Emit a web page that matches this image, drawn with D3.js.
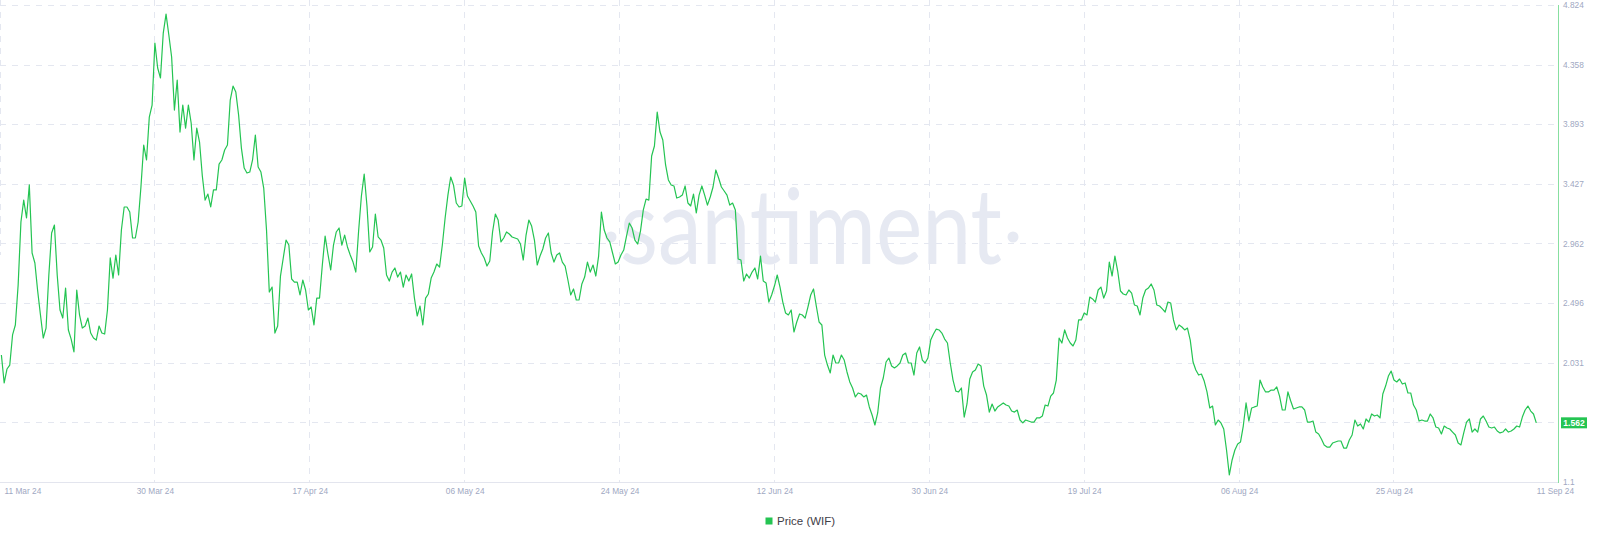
<!DOCTYPE html>
<html><head><meta charset="utf-8">
<script src="https://cdn.jsdelivr.net/npm/d3@7"></script>
<style>html,body{margin:0;padding:0;background:#fff;overflow:hidden} svg{display:block}</style>
</head><body>
<svg id="chart" width="1600" height="541"></svg>
<script>
// ---------------- data ----------------
const seriesName = "Price (WIF)";
const seriesStart = "2024-03-11T16:00:00Z";
const seriesStepHours = 8;
const prices = [
2.091,1.873,1.982,2.013,2.248,2.326,2.638,3.130,3.301,3.161,
3.419,2.888,2.810,2.591,2.404,2.224,2.302,2.716,3.044,3.106,
2.716,2.443,2.380,2.614,2.287,2.216,2.115,2.599,2.404,2.302,
2.318,2.380,2.263,2.224,2.208,2.318,2.263,2.255,2.443,2.849,
2.692,2.872,2.716,3.067,3.247,3.247,3.208,3.005,3.005,3.130,
3.403,3.731,3.614,3.949,4.043,4.527,4.332,4.254,4.605,4.753,
4.590,4.418,4.004,4.238,3.832,4.043,3.863,4.043,3.903,3.614,
3.863,3.754,3.489,3.301,3.348,3.247,3.380,3.380,3.582,3.614,
3.692,3.731,4.082,4.191,4.144,3.965,3.707,3.551,3.512,3.520,
3.614,3.809,3.559,3.520,3.395,3.067,2.583,2.622,2.263,2.318,
2.708,2.849,2.989,2.950,2.685,2.661,2.661,2.560,2.677,2.599,
2.443,2.466,2.326,2.536,2.536,2.794,3.020,2.880,2.755,2.950,
3.052,3.083,2.950,3.028,2.935,2.872,2.817,2.739,3.059,3.333,
3.504,3.255,2.896,2.935,3.192,3.013,2.989,2.927,2.716,2.669,
2.739,2.771,2.700,2.739,2.622,2.716,2.669,2.724,2.536,2.396,
2.474,2.326,2.536,2.568,2.692,2.739,2.802,2.778,2.950,3.161,
3.340,3.481,3.419,3.278,3.247,3.255,3.473,3.333,3.294,3.255,
3.208,2.942,2.888,2.849,2.786,2.825,3.052,3.192,3.145,2.974,
3.005,3.052,3.036,3.013,3.005,
2.997,2.958,2.833,3.028,3.145,3.098,
2.989,2.794,2.864,2.919,3.005,3.044,2.888,2.817,2.872,2.888,
2.817,2.786,2.677,2.560,2.607,2.521,2.521,2.646,2.700,2.817,
2.739,2.794,2.708,2.864,3.208,3.067,3.005,2.974,2.888,2.802,
2.817,2.872,2.911,3.020,3.122,3.083,2.989,2.958,3.059,3.223,
3.309,3.301,3.645,3.723,3.988,3.832,3.770,3.575,3.458,3.419,
3.411,3.317,3.325,3.340,3.411,3.278,3.255,3.348,3.200,3.340,
3.411,3.340,3.262,3.325,3.403,3.536,3.473,3.403,3.372,3.340,
3.262,3.278,3.223,2.841,2.833,2.669,2.724,2.692,2.739,2.771,
2.685,2.864,2.669,2.654,2.505,2.560,2.630,2.716,2.622,2.505,
2.419,2.404,2.443,2.271,2.349,2.412,2.404,2.380,2.466,2.560,
2.607,2.474,2.349,2.326,2.091,2.013,1.951,2.091,2.029,2.029,
2.091,2.052,1.959,1.881,1.834,1.764,1.795,1.787,1.764,1.779,
1.686,1.623,1.545,1.639,1.834,1.912,2.037,2.068,2.006,1.990,
2.006,2.029,2.091,2.107,2.029,2.029,1.935,2.107,2.154,2.052,
2.029,2.068,2.208,2.255,2.294,2.287,2.263,2.216,2.185,2.029,
1.896,1.810,1.803,1.834,1.607,1.709,1.904,1.959,1.974,2.021,
2.006,1.849,1.779,1.646,1.709,1.654,1.686,1.701,1.717,1.701,
1.693,1.654,1.646,1.662,1.584,1.561,1.584,1.576,
1.568,1.568,1.600,
1.600,1.615,1.701,1.693,1.771,1.795,1.896,2.224,2.185,2.287,
2.224,2.185,2.162,2.208,2.365,2.365,2.419,2.404,2.544,2.529,
2.505,2.599,2.622,2.536,2.591,2.817,2.708,2.864,2.747,2.591,
2.568,2.560,2.599,2.575,2.482,2.474,2.404,2.536,2.599,2.614,
2.646,2.599,2.482,2.474,2.451,2.427,2.505,2.497,2.365,2.287,
2.326,2.310,2.287,2.302,2.208,2.037,1.974,1.935,1.943,1.888,
1.803,1.678,1.693,1.545,1.584,1.561,1.514,1.350,1.155,1.272,
1.350,1.397,1.412,1.537,1.717,1.576,1.678,1.686,1.693,1.896,
1.842,1.803,1.803,1.818,1.818,1.842,1.771,1.662,1.662,1.803,
1.732,1.670,1.678,1.686,1.686,1.662,1.568,1.568,1.576,1.490,
1.475,1.436,1.389,1.373,1.373,1.404,1.412,1.420,1.420,1.365,
1.365,1.428,1.467,1.584,1.537,1.553,1.514,1.592,1.568,1.631,
1.615,1.623,1.600,1.787,1.849,1.927,1.966,1.896,1.881,1.904,
1.865,1.873,1.795,1.795,1.701,1.662,1.576,1.584,1.576,1.576,
1.631,1.600,1.529,1.522,1.475,1.537,1.522,1.514,1.490,1.467,
1.404,1.389,1.483,1.568,1.592,1.490,1.514,1.490,1.592,1.615,
1.576,1.529,1.522,1.529,1.498,1.483,1.490,1.514,1.490,1.498,
1.514,1.537,1.529,1.607,1.662,1.693,1.654,1.631,1.562
];
const xDomain = ["2024-03-11T12:00:00Z", "2024-09-11T00:00:00Z"];
const xTickDates = ["2024-03-11T12:00:00Z","2024-03-30T00:00:00Z","2024-04-17T12:00:00Z","2024-05-06T00:00:00Z","2024-05-24T12:00:00Z","2024-06-12T00:00:00Z","2024-06-30T12:00:00Z","2024-07-19T00:00:00Z","2024-08-06T12:00:00Z","2024-08-25T00:00:00Z"];
const xTickLabels = ["11 Mar 24","30 Mar 24","17 Apr 24","06 May 24","24 May 24","12 Jun 24","30 Jun 24","19 Jul 24","06 Aug 24","25 Aug 24"];
const xEndLabel = "11 Sep 24";
const yDomain = [1.1, 4.824];
const yTicks = [1.1, 1.5655, 2.031, 2.4965, 2.962, 3.4275, 3.893, 4.3585, 4.824];
const yTickLabels = ["1.1","1.566","2.031","2.496","2.962","3.427","3.893","4.358","4.824"];
const lastPriceLabel = "1.562";
const watermark = "santiment";

// ---------------- layout ----------------
const plotRight = 1558, plotTop = 5, plotBottom = 482, dataRight = 1536.3;
const green = "#24c452", gridColor = "#e4e7f0", labelColor = "#a0a8c2";
const labelFont = "Liberation Sans, Arial, sans-serif";

const svg = d3.select("#chart");
const parse = d3.utcParse("%Y-%m-%dT%H:%M:%SZ");
const t0 = parse(seriesStart);
const data = prices.map((v, i) => ({ t: new Date(+t0 + i * seriesStepHours * 3600e3), v }));

const x = d3.scaleUtc().domain(xDomain.map(parse)).range([0, dataRight]);
const y = d3.scaleLinear().domain(yDomain).range([plotBottom, plotTop]);

// grid
const grid = svg.append("g");
grid.selectAll("line.v").data(xTickDates.map(parse)).join("line")
  .attr("x1", d => x(d)).attr("x2", d => x(d)).attr("y1", 0).attr("y2", plotBottom)
  .attr("stroke", gridColor).attr("stroke-width", 1).attr("stroke-dasharray", "6,6")
  .attr("shape-rendering", "crispEdges");
grid.selectAll("line.h").data(yTicks.slice(1)).join("line")
  .attr("x1", 0).attr("x2", plotRight).attr("y1", d => Math.round(y(d)) + 0.5).attr("y2", d => Math.round(y(d)) + 0.5)
  .attr("stroke", gridColor).attr("stroke-width", 1).attr("stroke-dasharray", "6,6");

// watermark
const wm = svg.append("g").attr("fill", "#e6e9f2");
wm.append("text").attr("x", 620).attr("y", 264)
  .attr("font-family", "Lato, 'Open Sans', sans-serif").attr("font-size", 104)
  .attr("textLength", 382).attr("lengthAdjust", "spacingAndGlyphs").text(watermark);
wm.append("circle").attr("cx", 611).attr("cy", 237).attr("r", 5.5);
wm.append("circle").attr("cx", 1013).attr("cy", 237).attr("r", 5.5);

// bottom axis line & right axis line
svg.append("line").attr("x1", 0).attr("x2", plotRight).attr("y1", plotBottom + 0.5).attr("y2", plotBottom + 0.5)
  .attr("stroke", "#e3e5ee");
svg.append("line").attr("x1", plotRight + 0.5).attr("x2", plotRight + 0.5).attr("y1", plotTop).attr("y2", plotBottom + 1)
  .attr("stroke", green).attr("stroke-opacity", 0.55);

// price line
svg.append("path").datum(data)
  .attr("fill", "none").attr("stroke", green).attr("stroke-width", 1.2).attr("stroke-linejoin", "round")
  .attr("d", d3.line().x(d => x(d.t)).y(d => y(d.v)));

// x axis
const xTickAll = xTickDates.map(parse).concat([parse(xDomain[1])]);
const xLabels = xTickLabels.concat([xEndLabel]);
const xAxis = svg.append("g").attr("transform", `translate(0,${plotBottom})`)
  .call(d3.axisBottom(x).tickValues(xTickAll).tickFormat((d, i) => xLabels[i]).tickSize(0).tickPadding(0));
xAxis.select(".domain").remove();
xAxis.selectAll("text")
  .attr("y", 9).attr("dy", "0.32em")
  .attr("fill", labelColor).attr("font-family", labelFont).attr("font-size", 8.3)
  .attr("text-anchor", (d, i) => (i === 0 || i === xTickAll.length - 1) ? "start" : "middle")
  .attr("dx", (d, i) => i === 0 ? 4 : 0);

// y axis (right)
const yAxis = svg.append("g").attr("transform", `translate(${plotRight},0)`)
  .call(d3.axisRight(y).tickValues(yTicks).tickFormat((d, i) => yTickLabels[i]).tickSize(0).tickPadding(5));
yAxis.select(".domain").remove();
yAxis.selectAll("text").attr("fill", labelColor).attr("font-family", labelFont).attr("font-size", 8.3);

// last value badge
const lastY = y(prices[prices.length - 1]);
const badge = svg.append("g");
badge.append("rect").attr("x", plotRight + 3).attr("y", lastY - 5.5).attr("width", 26).attr("height", 11).attr("fill", green);
badge.append("text").attr("x", plotRight + 16).attr("y", lastY).attr("dy", "0.35em").attr("text-anchor", "middle")
  .attr("fill", "#fff").attr("font-family", labelFont).attr("font-size", 8.5).attr("font-weight", 700).text(lastPriceLabel);

// legend
const lg = svg.append("g").attr("transform", "translate(765.5,517.5)");
lg.append("rect").attr("width", 7).attr("height", 7).attr("fill", green);
lg.append("text").attr("x", 11.5).attr("y", 3.5).attr("dy", "0.35em")
  .attr("fill", "#3f4048").attr("font-family", labelFont).attr("font-size", 11.5).text(seriesName);
</script>
</body></html>
